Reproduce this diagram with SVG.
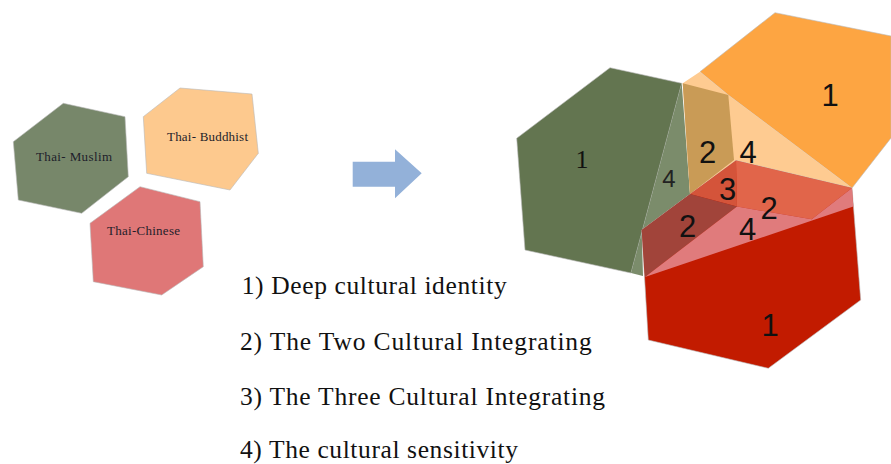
<svg xmlns="http://www.w3.org/2000/svg" width="891" height="464" viewBox="0 0 891 464">
<style>
.hs{font-family:"Liberation Serif","Times New Roman",serif;font-size:13px;fill:#1e1e2a}
.lg{font-family:"Liberation Serif","Times New Roman",serif;font-size:25.5px;fill:#111}
.dg{font-family:"Liberation Sans",Arial,sans-serif;font-size:31px;fill:#111;text-anchor:middle}
.edge{stroke:#b8b8b8;stroke-width:0.6}
</style>
<rect width="891" height="464" fill="#fff"/>
<g id="thai-muslim">
<polygon class="edge" points="63.3,103.3 125,116.7 128.3,176.7 81.7,213.3 18.3,200 13.3,141.7" fill="#77876a"/>
<text class="hs" x="36" y="160.5" textLength="76">Thai- Muslim</text>
</g>
<g id="thai-buddhist">
<polygon class="edge" points="180,88 252,94 258.3,153.3 230,190 146.7,173.3 143.3,116.7" fill="#fdc98e"/>
<text class="hs" x="167" y="140.5" textLength="81">Thai- Buddhist</text>
</g>
<g id="thai-chinese">
<polygon class="edge" points="140,186.7 200,201.7 203.3,266.7 161.7,295 93.3,281.7 90,223.3" fill="#df7777"/>
<text class="hs" x="107" y="234.5" textLength="73">Thai-Chinese</text>
</g>
<g id="connectors">
<polygon points="352.7,161.7 395,161.7 395,149.3 421.7,173.3 395,198.3 395,186.7 352.7,186.7" fill="#93b1d9"/>
</g>
<g id="integration">
<polygon class="edge" points="610,67.7 681.7,83.3 631,273 525,250 516.7,138.3" fill="#637550"/>
<polygon points="681.7,83.3 690,194 641.7,230 643,276 631,273" fill="#7b8c6b"/>
<polygon class="edge" points="775,12.7 891,36 891,138 852,188 728.3,95 700,71.7" fill="#fda542"/>
<polygon points="682.7,83.3 700,71.7 728.3,95 852,188 736,160.5 690,194" fill="#fecb91"/>
<polygon points="682.7,83.3 728.3,95 734,160 690,194" fill="#c99b56"/>
<polygon class="edge" points="641.7,230 736,160.5 852,188 860.7,300 768.3,368.3 648.3,340" fill="#c21b00"/>
<polygon points="690,194 736,160.5 737,206.5" fill="#d4543a"/>
<polygon points="736,160.5 852,188 811.7,219.3 737,206.5" fill="#e1654a"/>
<polygon points="641.7,230 690,194 737,206.5 645,277" fill="#a1443a"/>
<polygon points="737,206.5 811.7,219.3 852,188 853.3,206.5 645,277" fill="#e07b7c"/>
<text x="582" y="167.7" font-family="Liberation Serif,serif" font-size="26" fill="#111" text-anchor="middle">1</text>
<text x="669" y="186.7" font-family="Liberation Sans,sans-serif" font-size="24" fill="#222" text-anchor="middle">4</text>
<text class="dg" x="707.5" y="162.7">2</text>
<text class="dg" x="748" y="162.7">4</text>
<text class="dg" x="727.5" y="200">3</text>
<text class="dg" x="769" y="218.7">2</text>
<text class="dg" x="687.7" y="236.7">2</text>
<text class="dg" x="747.7" y="240">4</text>
<text class="dg" x="830" y="106">1</text>
<text class="dg" x="770" y="336">1</text>
</g>
<g id="legend">
<text class="lg" x="241.7" y="294" textLength="265">1) Deep cultural identity</text>
<text class="lg" x="240" y="350" textLength="351.7">2) The Two Cultural Integrating</text>
<text class="lg" x="240" y="405" textLength="365">3) The Three Cultural Integrating</text>
<text class="lg" x="240" y="458.3" textLength="278">4) The cultural sensitivity</text>
</g>
</svg>
